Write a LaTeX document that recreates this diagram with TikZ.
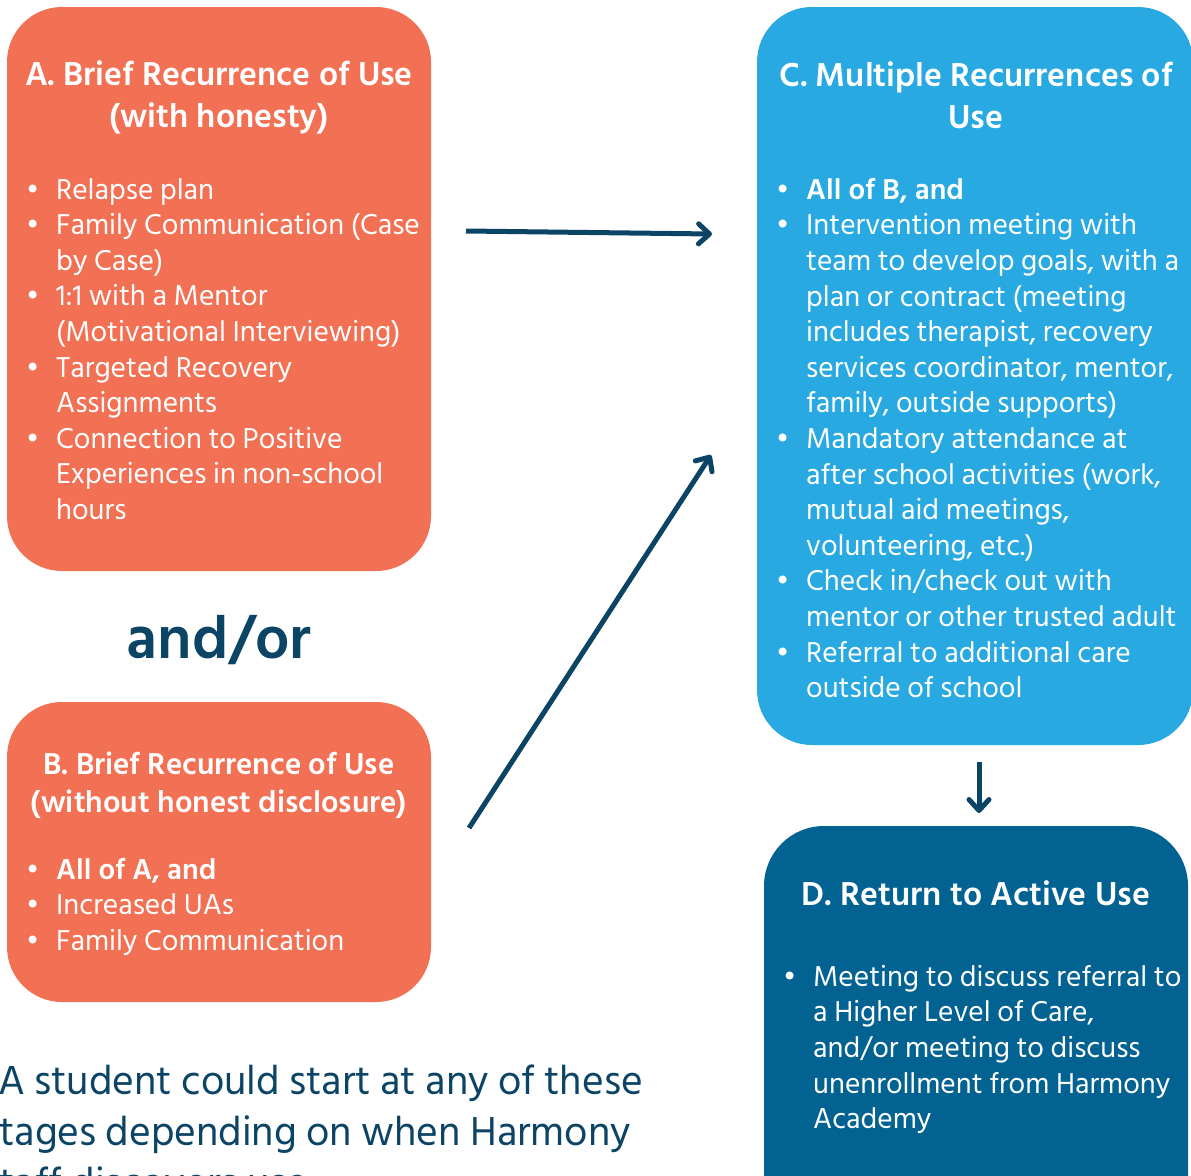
\documentclass[tikz,border=0pt]{standalone}
\usepackage{fontspec}
\setmainfont{Hind Siliguri}
\newfontfamily\notefont{Hind Siliguri}
\usetikzlibrary{arrows.meta,positioning}

\definecolor{coral}{RGB}{242,113,84}
\definecolor{skyblue}{RGB}{41,169,225}
\definecolor{deepblue}{RGB}{2,98,145}
\definecolor{navy}{RGB}{12,68,102}

\newcommand{\itm}{\makebox[30pt][l]{\textbullet}}
\newcommand{\cnt}{\hspace*{30pt}}

\begin{document}
\begin{tikzpicture}[x=1pt, y=-1pt,
	stagebox/.style={rounded corners=55pt, inner sep=0pt},
	titletext/.style={white, align=center, inner sep=0pt,
		font=\bfseries\fontsize{34}{42}\selectfont},
	listtext/.style={white, align=left, anchor=north west, inner sep=0pt,
		font=\fontsize{29.5}{35.6}\selectfont},
	flow/.style={navy, line width=5pt,
		-{Straight Barb[round, length=11pt, width=20pt]}}]

	\useasboundingbox (0,0) rectangle (1191,1175);
	\clip (0,0) rectangle (1191,1175);
	\fill[white] (0,0) rectangle (1191,1175);

	% Stages
	\node[stagebox, fill=coral, minimum width=424pt, minimum height=564pt]
		(boxA) at (219,289) {};
	\node[stagebox, fill=coral, minimum width=424pt, minimum height=300pt]
		(boxB) at (219,852) {};
	\node[stagebox, fill=skyblue, minimum width=436pt, minimum height=738pt]
		(boxC) at (975,376) {};
	\node[stagebox, fill=deepblue, rounded corners=60pt,
		minimum width=424pt, minimum height=420pt]
		(boxD) at (976,1036) {};

	%% Titles
	\node[titletext] (titleA) at (219,97)
		{A. Brief Recurrence of Use\\(with honesty)};
	\node[titletext, font=\bfseries\fontsize{31}{38}\selectfont]
		(titleB) at (219,785)
		{B. Brief Recurrence of Use\\(without honest disclosure)};
	\node[titletext] (titleC) at (976,95)
		{C. Multiple Recurrences of\\Use};
	\node[titletext] (titleD) at (976,893) {D. Return to Active Use};

	%% Lists
	\node[listtext] (listA) at (26,178) {%
		\itm Relapse plan\\
		\itm Family Communication (Case\\
		\cnt by Case)\\
		\itm 1:1 with a Mentor\\
		\cnt (Motivational Interviewing)\\
		\itm Targeted Recovery\\
		\cnt Assignments\\
		\itm Connection to Positive\\
		\cnt Experiences in non-school\\
		\cnt hours};
	\node[listtext] (listB) at (26,858) {%
		\itm\textbf{All of A, and}\\
		\itm Increased UAs\\
		\itm Family Communication};
	\node[listtext] (listC) at (776,178) {%
		\itm\textbf{All of B, and}\\
		\itm Intervention meeting with\\
		\cnt team to develop goals, with a\\
		\cnt plan or contract (meeting\\
		\cnt includes therapist, recovery\\
		\cnt services coordinator, mentor,\\
		\cnt family, outside supports)\\
		\itm Mandatory attendance at\\
		\cnt after school activities (work,\\
		\cnt mutual aid meetings,\\
		\cnt volunteering, etc.)\\
		\itm Check in/check out with\\
		\cnt mentor or other trusted adult\\
		\itm Referral to additional care\\
		\cnt outside of school};
	\node[listtext] (listD) at (783,965) {%
		\itm Meeting to discuss referral to\\
		\cnt a Higher Level of Care,\\
		\cnt and/or meeting to discuss\\
		\cnt unenrollment from Harmony\\
		\cnt Academy};

	%% Between A and B
	\node[navy, inner sep=0pt, font=\bfseries\fontsize{61}{70}\selectfont]
		(andor) at (219,640) {and/or};

	%% Note
	\node[navy, align=left, anchor=north west, inner sep=0pt,
		font=\notefont\fontsize{41.5}{51}\selectfont] (note) at (-2,1065)
		{A student could start at any of these\\
		\hspace*{-16pt}stages depending on when Harmony\\
		\hspace*{-16pt}staff discovers use};

	%% Arrows
	\coordinate (aout) at (466,231);
	\coordinate (cin) at (712,234);
	\coordinate (bout) at (469,828);
	\coordinate (cin2) at (711,455);
	\coordinate (cout) at (979,762);
	\coordinate (din) at (979,813);
	\draw[flow] (aout) -- (cin);
	\draw[flow] (bout) -- (cin2);
	\draw[flow] (cout) -- (din);

\end{tikzpicture}
\end{document}
